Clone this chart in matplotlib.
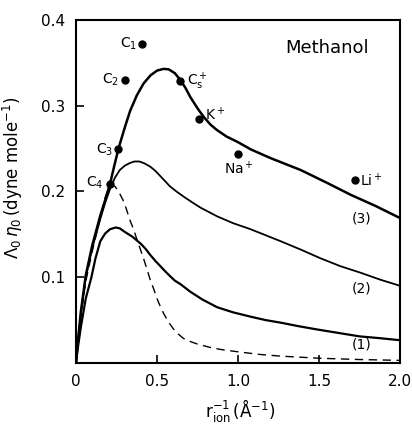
import matplotlib
matplotlib.use("Agg")
import matplotlib.pyplot as plt

# curve (3): upper solid line
c3_x = [0, 0.01, 0.03, 0.06, 0.10, 0.15, 0.18, 0.21, 0.235, 0.262, 0.30, 0.334, 0.375,
        0.417, 0.46, 0.50, 0.54, 0.572, 0.61, 0.644, 0.675, 0.706, 0.75, 0.788, 0.83,
        0.871, 0.93, 0.995, 1.08, 1.20, 1.387, 1.55, 1.697, 1.85, 2.0]
c3_y = [0, 0.022, 0.06, 0.102, 0.137, 0.172, 0.19, 0.209, 0.229, 0.250, 0.274, 0.294, 0.312,
        0.326, 0.3355, 0.341, 0.343, 0.3425, 0.338, 0.330, 0.321, 0.310, 0.297, 0.287, 0.278,
        0.2715, 0.264, 0.258, 0.249, 0.239, 0.225, 0.210, 0.196, 0.183, 0.169]

# curve (2)
c2_x = [0, 0.01, 0.03, 0.06, 0.10, 0.15, 0.18, 0.21, 0.24, 0.27, 0.30, 0.33, 0.36, 0.39,
        0.42, 0.458, 0.49, 0.52, 0.55, 0.58, 0.62, 0.664, 0.72, 0.77, 0.871, 0.97,
        1.077, 1.17, 1.263, 1.39, 1.51, 1.63, 1.76, 1.88, 2.0]
c2_y = [0, 0.021, 0.057, 0.10, 0.134, 0.168, 0.187, 0.203, 0.216, 0.225, 0.230, 0.233, 0.235, 0.235,
        0.233, 0.229, 0.224, 0.218, 0.212, 0.206, 0.200, 0.194, 0.187, 0.181, 0.171, 0.163,
        0.156, 0.149, 0.142, 0.132, 0.122, 0.113, 0.105, 0.097, 0.090]

# curve (1)
c1_x = [0, 0.01, 0.03, 0.06, 0.095, 0.12, 0.15, 0.18, 0.21, 0.245, 0.27, 0.30, 0.35,
        0.40, 0.43, 0.458, 0.49, 0.52, 0.55, 0.582, 0.61, 0.644, 0.706, 0.78, 0.871,
        0.97, 1.077, 1.17, 1.263, 1.37, 1.49, 1.62, 1.75, 1.87, 2.0]
c1_y = [0, 0.016, 0.042, 0.075, 0.100, 0.122, 0.142, 0.151, 0.156, 0.158, 0.157, 0.153, 0.147,
        0.139, 0.133, 0.126, 0.119, 0.113, 0.107, 0.101, 0.096, 0.092, 0.083, 0.074, 0.065,
        0.059, 0.054, 0.050, 0.047, 0.043, 0.039, 0.035, 0.031, 0.029, 0.0265]

# dashed curve
cd_x = [0, 0.01, 0.03, 0.06, 0.10, 0.15, 0.18, 0.20, 0.22, 0.24, 0.26, 0.29, 0.31, 0.33,
        0.355, 0.376, 0.40, 0.42, 0.44, 0.458, 0.48, 0.50, 0.52, 0.54, 0.57, 0.60, 0.63,
        0.66, 0.69, 0.75, 0.83, 0.90, 1.0, 1.13, 1.26, 1.5, 1.75, 2.0]
cd_y = [0, 0.02, 0.055, 0.095, 0.130, 0.170, 0.193, 0.203, 0.207, 0.206, 0.201, 0.190, 0.180, 0.168,
        0.156, 0.144, 0.131, 0.120, 0.108, 0.097, 0.086, 0.075, 0.066, 0.058, 0.048, 0.040, 0.034,
        0.029, 0.026, 0.022, 0.018, 0.0155, 0.013, 0.010, 0.008, 0.0055, 0.004, 0.003]

# measured ions
ion_names = [r"C$_1$", r"C$_2$", r"C$_3$", r"C$_4$", r"C$_\mathrm{s}^+$",
             r"K$^+$", r"Na$^+$", r"Li$^+$"]
ion_x = [0.41, 0.30, 0.262, 0.21, 0.64, 0.76, 1.00, 1.72]
ion_y = [0.372, 0.330, 0.250, 0.209, 0.329, 0.285, 0.244, 0.213]
# label offsets (points) and alignment
ion_off = [(-4, 0), (-4, 0), (-4, -1), (-5, 1), (5, 0), (4, 3), (1, -11), (4, 0)]
ion_ha = ["right", "right", "right", "right", "left", "left", "center", "left"]

curve_labels = ["(1)", "(2)", "(3)"]
curve_lx = [1.76, 1.76, 1.76]
curve_ly = [0.0215, 0.087, 0.169]

fig = plt.figure(figsize=(4.12, 4.26), dpi=100)
ax = fig.add_axes([0.1845, 0.148, 0.7865, 0.805])

ax.plot(c3_x, c3_y, color="black", linewidth=1.8)
ax.plot(c2_x, c2_y, color="black", linewidth=1.3)
ax.plot(c1_x, c1_y, color="black", linewidth=1.6)
ax.plot(cd_x, cd_y, color="black", linewidth=1.0, linestyle=(0, (6, 4)))

ax.plot(ion_x, ion_y, "o", color="black", markersize=5)
for name, x, y, off, ha in zip(ion_names, ion_x, ion_y, ion_off, ion_ha):
    ax.annotate(name, (x, y), xytext=off, textcoords="offset points",
                ha=ha, va="center", fontsize=10)

for lab, x, y in zip(curve_labels, curve_lx, curve_ly):
    ax.text(x, y, lab, ha="center", va="center", fontsize=10)

ax.text(1.55, 0.367, "Methanol", ha="center", va="center", fontsize=13)

ax.set_xlim(0, 2.0)
ax.set_ylim(0, 0.4)
ax.set_xticks([0, 0.5, 1.0, 1.5, 2.0])
ax.set_xticklabels(["0", "0.5", "1.0", "1.5", "2.0"])
ax.set_yticks([0.1, 0.2, 0.3, 0.4])
ax.set_yticklabels(["0.1", "0.2", "0.3", "0.4"])
ax.tick_params(direction="in", length=6, width=1.2, labelsize=11, pad=8)
for s in ax.spines.values():
    s.set_linewidth(1.5)

ax.set_ylabel(r"$\Lambda_0\,\eta_0\,$(dyne mole$^{-1}$)", fontsize=12)
ax.yaxis.set_label_coords(-0.157, 0.54)
ax.set_xlabel(r"$\mathrm{r}_\mathrm{ion}^{-1}\,$($\mathrm{\AA}^{-1}$)", fontsize=12)
ax.xaxis.set_label_coords(0.506, -0.10)

fig.savefig("out.png", dpi=100)
